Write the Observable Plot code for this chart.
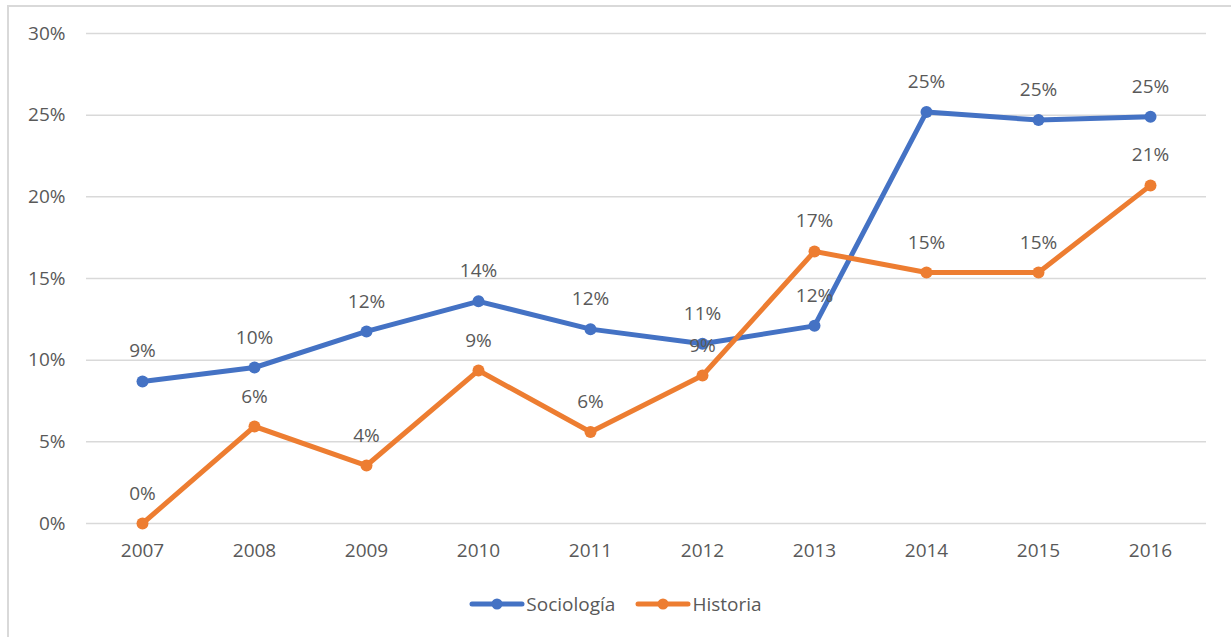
<!DOCTYPE html>
<html>
<head>
<meta charset="utf-8">
<script src="https://cdn.jsdelivr.net/npm/d3@7"></script>
<script src="https://cdn.jsdelivr.net/npm/@observablehq/plot@0.6"></script>
<style>
  html, body { margin: 0; padding: 0; background: #fff; }
  #wrap { position: relative; width: 1231px; height: 637px; overflow: hidden; font-family: "Open Sans", sans-serif; }
  #frame { position: absolute; left: 7px; top: 5px; width: 1300px; height: 700px; border-left: 2px solid #d9d9d9; border-top: 2px solid #d9d9d9; box-sizing: border-box; }
  #chart { position: absolute; left: 0; top: 0; }
  #legend { position: absolute; left: 0; top: 590px; width: 1231px; height: 28px; display: flex; justify-content: center; color: #595959; font-size: 19px; }
  .item { display: flex; align-items: center; margin: 0 10px; }
  .item svg { margin-right: 1px; }
</style>
</head>
<body>
<div id="wrap">
  <div id="frame"></div>
  <div id="chart"></div>
  <div id="legend"></div>
</div>
<script>
const years = ["2007","2008","2009","2010","2011","2012","2013","2014","2015","2016"];
const sociologia = [0.087, 0.0955, 0.1176, 0.136, 0.119, 0.110, 0.121, 0.252, 0.247, 0.249];
const historia = [0.0, 0.0594, 0.0355, 0.0937, 0.056, 0.0906, 0.1666, 0.1537, 0.1537, 0.207];
const seriesNames = ["Sociología", "Historia"];
const colors = ["#4472C4", "#ED7D31"];
const yTicks = [0, 0.05, 0.10, 0.15, 0.20, 0.25, 0.30];

const data = [];
years.forEach((y, i) => {
  data.push({year: y, value: sociologia[i], series: seriesNames[0]});
  data.push({year: y, value: historia[i], series: seriesNames[1]});
});

const fmt = d3.format(".0%");
const textColor = "#595959";

const chart = Plot.plot({
  width: 1231,
  height: 580,
  marginLeft: 86,
  marginRight: 25,
  marginTop: 33,
  marginBottom: 57,
  style: {fontFamily: "'Open Sans', sans-serif", fontSize: "19px", color: textColor, background: "transparent"},
  x: {type: "point", domain: years, padding: 0.5, label: null},
  y: {domain: [0, 0.30], label: null},
  color: {domain: seriesNames, range: colors},
  marks: [
    Plot.gridY(yTicks, {stroke: "#d9d9d9", strokeOpacity: 1, strokeWidth: 1.5}),
    Plot.axisY({ticks: yTicks, tickFormat: fmt, tickSize: 0, tickPadding: 21, fill: textColor, fontSize: 19}),
    Plot.axisX({tickSize: 0, tickPadding: 20, fill: textColor, fontSize: 19}),
    Plot.line(data, {x: "year", y: "value", z: "series", stroke: "series", strokeWidth: 5, strokeLinejoin: "round", strokeLinecap: "round"}),
    Plot.dot(data, {x: "year", y: "value", fill: "series", r: 6}),
    Plot.text(data, {x: "year", y: "value", text: d => fmt(d.value), dy: -30, fill: textColor, fontSize: 19, lineAnchor: "middle"})
  ]
});
document.getElementById("chart").appendChild(chart);

const legend = document.getElementById("legend");
seriesNames.forEach((name, i) => {
  const item = document.createElement("div");
  item.className = "item";
  item.innerHTML = `<svg width="56" height="12"><line x1="3" y1="6" x2="53" y2="6" stroke="${colors[i]}" stroke-width="5" stroke-linecap="round"/><circle cx="28" cy="6" r="5.5" fill="${colors[i]}"/></svg><span>${name}</span>`;
  legend.appendChild(item);
});
</script>
</body>
</html>
